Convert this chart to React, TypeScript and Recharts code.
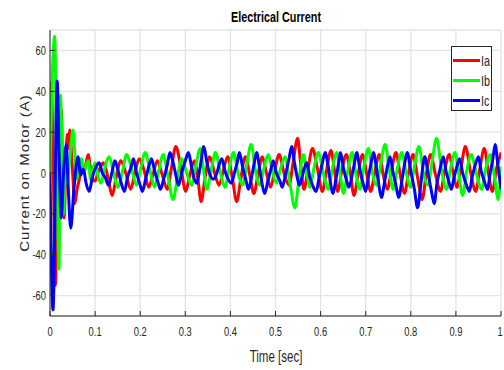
import React from 'react';
import { LineChart, Line, XAxis, YAxis, CartesianGrid } from 'recharts';

const X_TICKS = [0, 0.1, 0.2, 0.3, 0.4, 0.5, 0.6, 0.7, 0.8, 0.9, 1];
const Y_TICKS = [-60, -40, -20, 0, 20, 40, 60];
const SERIES_NAMES = ['Ia', 'Ib', 'Ic'];
const SERIES_COLORS = ['#ff0000', '#00ff00', '#0000ff'];

// [time (s), current (A)]: transient first, then peaks / troughs
const IA: [number, number][] = [
  [0, 0], [0.003, 44], [0.007, 5], [0.012, -55], [0.016, -10], [0.02, 15], [0.025, 31], [0.028, 0],
  [0.031, -22], [0.035, 0], [0.038, 19], [0.041, 12], [0.044, 21], [0.048, 8], [0.051, -3], [0.055, -15],
  [0.06, -8], [0.065, -3], [0.07, 3], [0.075, 0], [0.08, 5], [0.085, 9], [0.09, 2], [0.095, -3],
  [0.1, -4], [0.106, 0], [0.112, 3], [0.118, 5], [0.124, 2], [0.13, -4],
  [0.138, -11], [0.146, -3], [0.157, 6], [0.168, 0],
  [0.179, -8], [0.188, 0], [0.198, 7], [0.209, 1],
  [0.219, -7], [0.228, -1], [0.238, 6], [0.249, -1],
  [0.26, -8], [0.269, 2], [0.279, 13], [0.29, 3],
  [0.301, -9], [0.31, -1], [0.32, 6], [0.328, -3],
  [0.335, -14], [0.344, -2], [0.354, 8], [0.365, 0],
  [0.375, -6], [0.384, 1], [0.394, 8], [0.404, -2],
  [0.414, -14], [0.423, -3], [0.433, 8], [0.443, -1],
  [0.452, -10], [0.461, -1], [0.471, 8], [0.48, 0],
  [0.489, -7], [0.498, 1], [0.508, 9], [0.519, 0],
  [0.53, -6], [0.539, 5], [0.549, 17], [0.556, 4],
  [0.563, -8], [0.572, 2], [0.582, 12], [0.593, 2],
  [0.604, -9], [0.613, 1], [0.623, 11], [0.631, 1],
  [0.638, -9], [0.647, 1], [0.657, 9], [0.666, 0],
  [0.674, -11], [0.683, -1], [0.693, 9], [0.702, 0],
  [0.711, -9], [0.72, 0], [0.73, 9], [0.739, -1],
  [0.748, -8], [0.757, 1], [0.767, 10], [0.776, 0],
  [0.786, -10], [0.795, 0], [0.805, 9], [0.815, -2],
  [0.825, -13], [0.834, -1], [0.844, 9], [0.855, -1],
  [0.866, -9], [0.875, 1], [0.885, 9], [0.894, 0],
  [0.902, -7], [0.911, 2], [0.921, 13], [0.932, 1],
  [0.944, -9], [0.953, 2], [0.963, 12], [0.972, 0],
  [0.981, -9], [0.99, 2], [1.0, 10],
];

const IB: [number, number][] = [
  [0, 0], [0.004, 40], [0.0104, 67], [0.014, 20], [0.017, -20], [0.02, -47], [0.023, 38], [0.027, 10],
  [0.03, -20], [0.034, 5], [0.038, -5], [0.043, 5], [0.047, 15], [0.051, 21], [0.055, 10], [0.06, -3],
  [0.065, 5], [0.07, 7], [0.075, 0], [0.08, 4], [0.085, 6], [0.09, -3], [0.095, 2], [0.1, 5],
  [0.107, -2], [0.113, -5], [0.12, 1], [0.126, 6], [0.131, 8], [0.14, 1],
  [0.151, -7], [0.16, 0], [0.17, 9], [0.181, 2],
  [0.192, -6], [0.201, 2], [0.211, 10], [0.222, 1],
  [0.232, -7], [0.241, 1], [0.251, 9], [0.262, -2],
  [0.273, -13], [0.282, -3], [0.292, 7], [0.303, 0],
  [0.314, -6], [0.323, 3], [0.333, 12], [0.34, 2],
  [0.348, -8], [0.357, 1], [0.367, 10], [0.378, 0],
  [0.388, -7], [0.397, 2], [0.407, 10], [0.417, 0],
  [0.427, -6], [0.436, 4], [0.446, 14], [0.455, 2],
  [0.465, -6], [0.474, 2], [0.484, 9], [0.493, 1],
  [0.502, -5], [0.511, 2], [0.521, 8], [0.532, -5],
  [0.543, -17], [0.552, -3], [0.562, 9], [0.569, 1],
  [0.576, -7], [0.585, 2], [0.595, 10], [0.606, 0],
  [0.617, -8], [0.626, 2], [0.636, 10], [0.643, 0],
  [0.651, -10], [0.66, 1], [0.67, 10], [0.678, 0],
  [0.687, -8], [0.696, 3], [0.706, 12], [0.715, 0],
  [0.724, -6], [0.733, 4], [0.743, 14], [0.752, 2],
  [0.761, -8], [0.77, 2], [0.78, 10], [0.79, 0],
  [0.799, -7], [0.808, 3], [0.818, 13], [0.828, 0],
  [0.838, -6], [0.847, 5], [0.857, 17], [0.868, 2],
  [0.879, -8], [0.888, 2], [0.898, 10], [0.906, 0],
  [0.915, -11], [0.924, 1], [0.934, 9], [0.945, 0],
  [0.957, -8], [0.966, 2], [0.976, 9], [0.985, -1],
  [0.994, -13], [1.0, 3],
];

const IC: [number, number][] = [
  [0, 0], [0.0066, -67], [0.016, 45], [0.02, 10], [0.025, -22], [0.03, 0], [0.036, 14], [0.04, -5],
  [0.046, -27], [0.053, -8], [0.062, 8], [0.068, -1], [0.074, 2], [0.08, -5], [0.087, -9], [0.094, -2],
  [0.102, 3], [0.109, 5], [0.116, 0], [0.122, -2], [0.13, -6], [0.137, 0],
  [0.144, 6], [0.15, 2], [0.158, -5], [0.165, -9], [0.172, -2], [0.18, 3],
  [0.185, 7], [0.192, 0], [0.2, -6], [0.205, -9], [0.212, -3], [0.22, 4],
  [0.225, 7], [0.232, 1], [0.24, -5], [0.245, -8], [0.252, -3], [0.26, 4],
  [0.266, 10], [0.272, 6], [0.28, -2], [0.285, -6], [0.292, 0], [0.3, 6],
  [0.307, 10], [0.313, 4], [0.32, -3], [0.325, -5], [0.333, 3],
  [0.341, 13], [0.348, 5], [0.355, -1], [0.362, -3], [0.37, 0], [0.375, 4],
  [0.381, 7], [0.388, 1], [0.395, -3], [0.402, -5], [0.41, 1], [0.415, 5],
  [0.42, 10], [0.427, 3], [0.435, -4], [0.44, -8], [0.447, -2], [0.453, 5],
  [0.458, 10], [0.465, 2], [0.47, -5], [0.476, -10], [0.483, -4], [0.49, 2],
  [0.495, 6], [0.502, 0], [0.51, -4], [0.515, -7], [0.522, -1], [0.53, 7],
  [0.536, 13], [0.542, 5], [0.548, -2], [0.553, -6], [0.56, -1], [0.565, 3],
  [0.569, 5], [0.576, -2], [0.584, -7], [0.59, -9], [0.597, -2], [0.604, 5],
  [0.61, 10], [0.617, 3], [0.622, -5], [0.627, -10], [0.634, -3], [0.64, 5],
  [0.644, 10], [0.651, 2], [0.658, -4], [0.663, -7], [0.67, -1], [0.676, 6],
  [0.68, 10], [0.687, 2], [0.694, -5], [0.7, -9], [0.706, -2], [0.712, 5],
  [0.717, 10], [0.724, 2], [0.73, -7], [0.735, -12], [0.742, -4], [0.748, 3],
  [0.754, 8], [0.76, 1], [0.767, -6], [0.773, -12], [0.78, -4], [0.786, 4],
  [0.792, 10], [0.8, 1], [0.808, -8], [0.815, -17], [0.822, -6], [0.826, 2],
  [0.831, 8], [0.838, 0], [0.845, -8], [0.852, -15], [0.858, -5], [0.865, 2],
  [0.872, 8], [0.878, 1], [0.884, -4], [0.89, -8], [0.896, -2], [0.902, 3],
  [0.908, 7], [0.915, 0], [0.922, -5], [0.93, -9], [0.936, -2], [0.943, 4],
  [0.95, 8], [0.956, 1], [0.963, -4], [0.97, -8], [0.976, 0], [0.982, 7],
  [0.987, 14], [0.993, 4], [1.0, -8],
];

const SERIES = [IA, IB, IC];

const FONT = 'Arial, "Liberation Sans", sans-serif';
const AXIS_COLOR = '#262626';
const SQUISH = 0.72;

// MATLAB-style condensed tick label
const NarrowTick = (props: any) => {
  const { x, y, payload, textAnchor, dy } = props;
  return (
    <g transform={`translate(${x},${y}) scale(${SQUISH},1)`}>
      <text x={0} y={0} dy={dy} textAnchor={textAnchor} fill={AXIS_COLOR} fontSize={13} fontFamily={FONT}>
        {String(payload.value)}
      </text>
    </g>
  );
};

const App: React.FC = () => {
  const seriesData = SERIES.map(pts => pts.map(([t, v]) => ({ t, v })));

  return (
    <div style={{ position: 'absolute', left: 0, top: 0, width: 504, height: 370, background: '#fff' }}>
      <LineChart width={504} height={370} margin={{ top: 30, right: 3, bottom: 24, left: 10 }}>
        <CartesianGrid stroke="#e3e3e3" strokeWidth={1.3} />
        <XAxis
          dataKey="t"
          type="number"
          domain={[0, 1]}
          ticks={X_TICKS}
          height={30}
          tick={<NarrowTick dy="0.71em" />}
          tickSize={-5}
          tickMargin={16}
          stroke={AXIS_COLOR}
          allowDataOverflow
        />
        <XAxis
          xAxisId="top"
          orientation="top"
          type="number"
          domain={[0, 1]}
          ticks={X_TICKS}
          height={0}
          mirror
          tickSize={5}
          tickFormatter={() => ''}
          stroke={AXIS_COLOR}
        />
        <YAxis
          type="number"
          domain={[-70, 70]}
          ticks={Y_TICKS}
          width={40}
          tick={<NarrowTick dy="0.355em" />}
          tickSize={-5}
          tickMargin={9}
          stroke={AXIS_COLOR}
          allowDataOverflow
        />
        <YAxis
          yAxisId="right"
          orientation="right"
          type="number"
          domain={[-70, 70]}
          ticks={Y_TICKS}
          width={0}
          mirror
          tickSize={5}
          tickFormatter={() => ''}
          stroke={AXIS_COLOR}
        />
        {seriesData.map((d, i) => (
          <Line
            key={SERIES_NAMES[i]}
            data={d}
            dataKey="v"
            name={SERIES_NAMES[i]}
            type="monotone"
            stroke={SERIES_COLORS[i]}
            strokeWidth={3}
            dot={false}
            isAnimationActive={false}
          />
        ))}
      </LineChart>

      {/* title and axis labels */}
      <div style={{ position: 'absolute', left: 276, top: 16, transform: `translate(-50%, -50%) scaleX(${SQUISH})`,
        whiteSpace: 'nowrap', fontFamily: FONT, fontWeight: 700, fontSize: 15, color: '#000' }}>
        Electrical Current
      </div>
      <div style={{ position: 'absolute', left: 276, top: 357, transform: `translate(-50%, -50%) scaleX(${SQUISH})`,
        whiteSpace: 'nowrap', fontFamily: FONT, fontSize: 16, color: AXIS_COLOR }}>
        Time [sec]
      </div>
      <div style={{ position: 'absolute', left: 25, top: 173, transform: 'translate(-50%, -50%) rotate(-90deg) scaleY(0.8)',
        whiteSpace: 'nowrap', fontFamily: FONT, fontSize: 15, letterSpacing: 1, color: AXIS_COLOR }}>
        Current on Motor (A)
      </div>

      {/* legend */}
      <div style={{ position: 'absolute', left: 451, top: 46, width: 41, height: 65, boxSizing: 'border-box',
        border: `1px solid ${AXIS_COLOR}`, background: '#fff' }}>
        {SERIES_NAMES.map((name, i) => (
          <div key={name} style={{ position: 'absolute', left: 1, top: 6 + i * 20, height: 14,
            display: 'flex', alignItems: 'center' }}>
            <div style={{ width: 27, height: 3, background: SERIES_COLORS[i] }} />
            <span style={{ marginLeft: 1, display: 'inline-block', transform: `scaleX(${SQUISH})`,
              transformOrigin: 'left center', fontFamily: FONT, fontSize: 15, color: AXIS_COLOR }}>{name}</span>
          </div>
        ))}
      </div>
    </div>
  );
};

export default App;
